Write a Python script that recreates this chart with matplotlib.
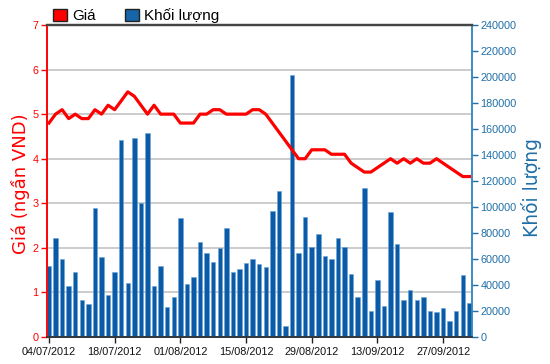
import matplotlib
matplotlib.use("Agg")
import matplotlib.pyplot as plt
from matplotlib.patches import Patch
import pandas as pd

# trading days (Vietnam, 02/09 holiday observed 03/09)
dates = [d.strftime("%d/%m/%Y") for d in pd.bdate_range("2012-07-04", "2012-10-03")
         if d.strftime("%Y-%m-%d") != "2012-09-03"]

price = [4.8, 5.0, 5.1, 4.9, 5.0, 4.9, 4.9, 5.1, 5.0, 5.2,
         5.1, 5.3, 5.5, 5.4, 5.2, 5.0, 5.2, 5.0, 5.0, 5.0,
         4.8, 4.8, 4.8, 5.0, 5.0, 5.1, 5.1, 5.0, 5.0, 5.0,
         5.0, 5.1, 5.1, 5.0, 4.8, 4.6, 4.4, 4.2, 4.0, 4.0,
         4.2, 4.2, 4.2, 4.1, 4.1, 4.1, 3.9, 3.8, 3.7, 3.7,
         3.8, 3.9, 4.0, 3.9, 4.0, 3.9, 4.0, 3.9, 3.9, 4.0,
         3.9, 3.8, 3.7, 3.6, 3.6]

volume = [54800, 75900, 59700, 39500, 50300, 28500, 25100, 99500, 61800, 32000,
          50300, 151300, 41300, 153100, 103300, 157200, 39500, 54800, 23100, 31000,
          91300, 40500, 46400, 73300, 64900, 57900, 68700, 83800, 49700, 52300,
          56900, 59700, 55900, 53800, 97200, 112500, 8700, 201300, 64900, 92600,
          69200, 79000, 62600, 59700, 75900, 69200, 48200, 31000, 114900, 20300,
          43600, 24100, 96400, 71800, 28200, 36200, 28200, 31000, 20300, 19200,
          22300, 12600, 20300, 47400, 26200]

tick_idx = [0, 10, 20, 30, 40, 50, 60]
tick_labels = [dates[i] for i in tick_idx]
price_ticks = [0, 1, 2, 3, 4, 5, 6, 7]
vol_ticks = [0, 20000, 40000, 60000, 80000, 100000, 120000, 140000,
             160000, 180000, 200000, 220000, 240000]

RED = "#ff0000"
BLUE_BAR = "#0a5aa6"
BLUE_AX = "#1f6fa8"

fig = plt.figure(figsize=(5.5, 3.64), dpi=100)
ax = fig.add_axes([47/550, 27/364, (472-47)/550, (337-25)/364])
ax2 = ax.twinx()

x = list(range(len(dates)))

# price axis (left)
ax.set_xlim(-0.3, 64.4)
ax.set_ylim(0, 7)
ax.set_yticks(price_ticks)
ax.set_yticklabels([str(v) for v in price_ticks], fontsize=7.8,
                   family="Liberation Sans", color=RED)
ax.yaxis.grid(True, color="#c8c8c8", lw=1.3)
ax.set_axisbelow(True)
ax.tick_params(axis="y", colors=RED, length=4, width=1, pad=2)
ax.set_ylabel("Giá (ngần VND)", color=RED, fontsize=13, family="DejaVu Sans")
ax.yaxis.set_label_coords(-0.04, 0.49)

ax.set_xticks(tick_idx)
ax.set_xticklabels(tick_labels, fontsize=7.8, family="Liberation Sans", color="#111111")
ax.tick_params(axis="x", length=4, width=1, color="#222222", pad=3)

# volume axis (right)
ax2.set_ylim(0, 240000)
ax2.set_yticks(vol_ticks)
ax2.set_yticklabels([str(v) for v in vol_ticks], fontsize=7.8,
                    family="Liberation Sans", color=BLUE_AX)
ax2.tick_params(axis="y", colors=BLUE_AX, length=4, width=1, pad=2)
ax2.set_ylabel("Khối lượng", color=BLUE_AX, fontsize=13.5, family="DejaVu Sans")
ax2.yaxis.set_label_coords(1.115, 0.48)

ax2.bar(x, volume, width=0.68, color=BLUE_BAR, edgecolor="#6aa6dc",
        linewidth=0.4, zorder=2)
ax2.plot(x, price, color=RED, lw=2.3, transform=ax.transData, zorder=3,
         solid_joinstyle="round")
ax2.set_xlim(-0.3, 64.4)

for a in (ax, ax2):
    a.spines["left"].set_color(RED)
    a.spines["left"].set_linewidth(1.2)
    a.spines["right"].set_color("#3a8cc4")
    a.spines["right"].set_linewidth(1.2)
    a.spines["top"].set_color("#444444")
    a.spines["top"].set_linewidth(1.6)
    a.spines["bottom"].set_color("#333333")
    a.spines["bottom"].set_linewidth(1.2)

handles = [Patch(facecolor="#ff0000", edgecolor="#222222", lw=1),
           Patch(facecolor="#1565a8", edgecolor="#222222", lw=1)]
fig.legend(handles, ["Giá", "Khối lượng"], loc="upper left",
           bbox_to_anchor=(0.072, 1.015), ncol=2, frameon=False,
           handlelength=0.9, handleheight=0.9, handletextpad=0.35,
           columnspacing=1.9, prop={"family": "Liberation Sans", "size": 11})

fig.savefig("out.png", dpi=100)
